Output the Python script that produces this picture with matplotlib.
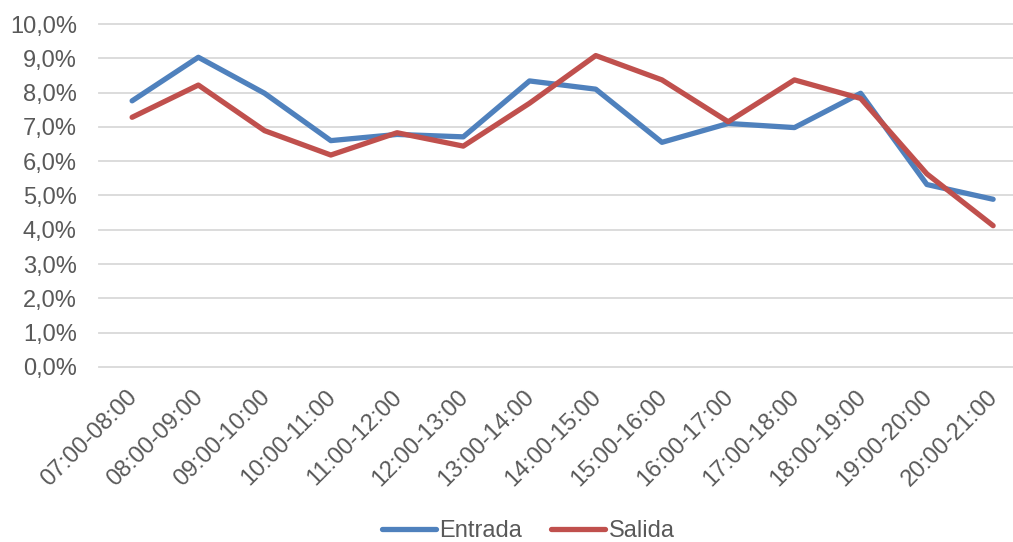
import matplotlib
matplotlib.use("Agg")
import matplotlib.pyplot as plt
from matplotlib.ticker import FuncFormatter
import matplotlib.transforms as mtransforms

categories = ["07:00-08:00", "08:00-09:00", "09:00-10:00", "10:00-11:00",
              "11:00-12:00", "12:00-13:00", "13:00-14:00", "14:00-15:00",
              "15:00-16:00", "16:00-17:00", "17:00-18:00", "18:00-19:00",
              "19:00-20:00", "20:00-21:00"]
entrada = [7.76, 9.03, 7.98, 6.60, 6.78, 6.71, 8.34, 8.10, 6.55, 7.10, 6.98, 7.98, 5.32, 4.89]
salida = [7.28, 8.22, 6.89, 6.18, 6.83, 6.44, 7.69, 9.08, 8.37, 7.15, 8.37, 7.83, 5.63, 4.12]
yticks = [0, 1, 2, 3, 4, 5, 6, 7, 8, 9, 10]

plt.rcParams['font.family'] = ['Liberation Sans', 'DejaVu Sans']
text_color = "#595959"
fs = 17

W, H = 1013, 542
fig = plt.figure(figsize=(W / 100, H / 100), dpi=100)
ax = fig.add_axes([99 / W, (H - 367) / H, (W - 99) / W, (367 - 24) / H])

x = list(range(len(categories)))
ax.plot(x, entrada, color="#4F81BD", lw=3.8, solid_capstyle="round", solid_joinstyle="round", label="Entrada", zorder=3)
ax.plot(x, salida, color="#C0504D", lw=3.8, solid_capstyle="round", solid_joinstyle="round", label="Salida", zorder=3)

ax.set_xlim(-0.5, 13.3)
ax.set_ylim(0, 10)
for t in yticks:
    ax.axhline(t, color="#D9D9D9", lw=1.3, zorder=1, clip_on=False)

ax.set_yticks(yticks)
ax.yaxis.set_major_formatter(FuncFormatter(lambda v, p: f"{v:.1f}%".replace(".", ",")))
ax.set_xticks(x)
ax.set_xticklabels(categories)
ax.tick_params(axis="both", length=0, labelsize=fs, labelcolor=text_color)
ax.tick_params(axis="y", pad=16)
for lbl in ax.get_xticklabels():
    lbl.set_rotation(45)
    lbl.set_ha("right")
    lbl.set_va("top")
    lbl.set_rotation_mode("anchor")
    lbl.set_transform(lbl.get_transform() + mtransforms.ScaledTranslation(-6 / 100, -14 / 100, fig.dpi_scale_trans))

for s in ax.spines.values():
    s.set_visible(False)

fig.legend(loc="center", bbox_to_anchor=(528 / W, 1 - 531 / H), ncol=2, frameon=False,
           fontsize=fs, labelcolor=text_color, handlelength=2.3, handletextpad=0.15,
           columnspacing=1.2, borderpad=0.2)

fig.savefig("out.png", dpi=100)
